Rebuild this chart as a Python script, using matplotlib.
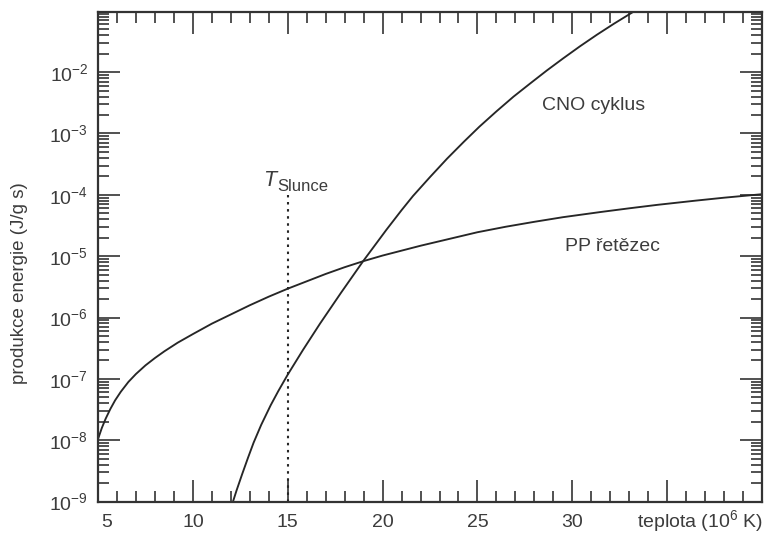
import matplotlib
matplotlib.use("Agg")
import matplotlib.pyplot as plt
import matplotlib.transforms as mtransforms
from matplotlib.ticker import LogLocator, FixedLocator, NullFormatter, FixedFormatter
import numpy as np

plt.rcParams['font.family'] = ['Liberation Sans', 'DejaVu Sans']
plt.rcParams['mathtext.fontset'] = 'custom'
plt.rcParams['mathtext.rm'] = 'Liberation Sans'
plt.rcParams['mathtext.it'] = 'Liberation Sans:italic'
plt.rcParams['mathtext.bf'] = 'Liberation Sans:bold'

# PP chain (temperature in 10^6 K, log10 of energy production in J/g s)
pp_T = [5.0, 5.2, 5.4, 5.65, 5.9, 6.2, 6.6, 7.0, 7.5, 8.0, 8.5, 9.2, 10, 11, 12, 13, 14, 15,
        16, 17, 18, 19, 20, 21, 22, 23.5, 25, 26.5, 28, 29.5, 31.5, 33, 34.5, 36.5, 38, 40]
pp_log = [-7.98, -7.80, -7.65, -7.49, -7.35, -7.21, -7.05, -6.92, -6.78, -6.66, -6.55, -6.41,
          -6.27, -6.10, -5.95, -5.80, -5.66, -5.53, -5.41, -5.29, -5.18, -5.08, -4.99, -4.91,
          -4.83, -4.72, -4.61, -4.52, -4.44, -4.365, -4.28, -4.22, -4.163, -4.095, -4.047, -3.99]

# CNO cycle
cno_T = [12.0, 12.3, 12.6, 12.9, 13.2, 13.6, 14.1, 14.5, 15.0, 15.8, 16.7, 17.8, 19.0, 20.2,
         21.0, 21.6, 22.5, 23.4, 24.3, 25.1, 26.0, 26.9, 27.8, 28.65, 29.5, 30.4, 31.3, 32.2,
         33.2, 34.0]
cno_log = [-9.11, -8.82, -8.55, -8.29, -8.04, -7.75, -7.43, -7.20, -6.93, -6.53, -6.10,
           -5.60, -5.07, -4.57, -4.25, -4.02, -3.71, -3.41, -3.13, -2.89, -2.64, -2.40,
           -2.18, -1.975, -1.78, -1.58, -1.39, -1.21, -1.02, -0.87]

T_sun = 15
sun_top = 1e-4

x_ticks = [5, 10, 15, 20, 25, 30, 35, 40]
x_ticklabels = ['5', '10', '15', '20', '25', '30', '', '']

fig = plt.figure(figsize=(7.66, 5.33), dpi=100)
ax = fig.add_axes([0.128, 0.059, 0.8668, 0.9185])

line_col = '#262626'
text_col = '#3c3c3c'

ax.plot(pp_T, 10 ** np.array(pp_log), color=line_col, lw=1.35, solid_capstyle='butt')
ax.plot(cno_T, 10 ** np.array(cno_log), color=line_col, lw=1.35, solid_capstyle='butt')
ax.plot([T_sun, T_sun], [1e-9, sun_top], color=line_col, lw=1.5, linestyle=(0, (1.2, 2.2)))

ax.set_yscale('log')
ax.set_xlim(5, 40)
ax.set_ylim(1e-9, 10 ** -1.02)

ax.xaxis.set_major_locator(FixedLocator(x_ticks))
ax.xaxis.set_major_formatter(FixedFormatter(x_ticklabels))
ax.xaxis.set_minor_locator(FixedLocator(np.arange(5, 41, 1)))
ax.xaxis.set_minor_formatter(NullFormatter())
ax.yaxis.set_major_locator(LogLocator(base=10, numticks=20))
ax.yaxis.set_minor_locator(LogLocator(base=10, subs=np.arange(2, 10), numticks=20))
ax.yaxis.set_minor_formatter(NullFormatter())

ax.tick_params(which='both', direction='in', top=True, right=True, color='#333333',
               labelcolor=text_col, labelsize=14)
ax.tick_params(axis='x', which='major', length=16, width=1.2, pad=9)
ax.tick_params(axis='y', which='major', length=16, width=1.2, pad=7)
ax.tick_params(which='minor', length=8, width=1.2)
for sp in ax.spines.values():
    sp.set_linewidth(1.6)
    sp.set_color('#333333')

# shift the "5" label right a little, as in the reference
offset = mtransforms.ScaledTranslation(9 / 100, 0, fig.dpi_scale_trans)
lbl0 = ax.get_xticklabels()[0]
lbl0.set_transform(lbl0.get_transform() + offset)

fig.text(20 / 766, 1 - 283 / 533, 'produkce energie (J/g s)', fontsize=13.5, color=text_col,
         rotation=90, ha='center', va='center')
fig.text(763 / 766, 1 - 521 / 533, r'teplota (10$^{6}$ K)', fontsize=14, color=text_col,
         ha='right', va='center')

ax.text(31.1, 10 ** -2.55, 'CNO cyklus', fontsize=14, color=text_col, ha='center', va='center')
ax.text(32.1, 10 ** -4.84, 'PP řetězec', fontsize=14, color=text_col, ha='center', va='center')
ax.text(13.7, 10 ** -3.85, 'T', fontsize=15.5, style='italic', color=text_col,
        ha='left', va='baseline')
ax.text(14.44, 10 ** -3.93, 'Slunce', fontsize=12, color=text_col, ha='left', va='baseline')

fig.savefig('out.png', dpi=100)
